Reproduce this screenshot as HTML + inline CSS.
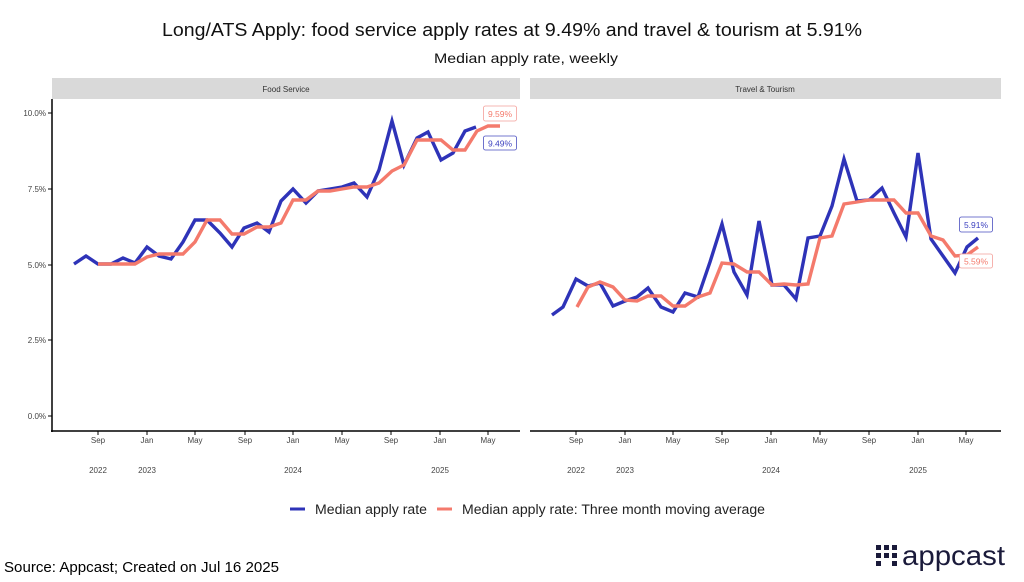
<!DOCTYPE html>
<html><head><meta charset="utf-8"><style>
html,body{margin:0;padding:0;background:#fff;}
svg{display:block;font-family:"Liberation Sans",sans-serif;}
</style></head><body>
<svg width="1024" height="582" viewBox="0 0 1024 582" xmlns="http://www.w3.org/2000/svg">
<rect width="1024" height="582" fill="#fff"/>
<text x="162" y="36" font-size="18" fill="#111" textLength="700" lengthAdjust="spacingAndGlyphs">Long/ATS Apply: food service apply rates at 9.49% and travel &amp; tourism at 5.91%</text>
<text x="434" y="63" font-size="14" fill="#111" textLength="184" lengthAdjust="spacingAndGlyphs">Median apply rate, weekly</text>

<!-- strips -->
<rect x="52" y="78" width="468" height="21" fill="#d9d9d9"/>
<text x="286" y="92" text-anchor="middle" font-size="8" fill="#333">Food Service</text>
<rect x="530" y="78" width="471" height="21" fill="#d9d9d9"/>
<text x="765" y="92" text-anchor="middle" font-size="8" fill="#333">Travel &amp; Tourism</text>

<!-- left axes -->
<line x1="52" y1="99" x2="52" y2="432" stroke="#000" stroke-width="1.5"/>
<line x1="51" y1="431" x2="520" y2="431" stroke="#000" stroke-width="1.5"/>
<g font-size="8" fill="#444" text-anchor="end">
<text x="46" y="116">10.0%</text><text x="46" y="192">7.5%</text><text x="46" y="268">5.0%</text><text x="46" y="343">2.5%</text><text x="46" y="419">0.0%</text>
</g>
<g stroke="#000" stroke-width="1">
<line x1="48" y1="113" x2="52" y2="113"/><line x1="48" y1="189" x2="52" y2="189"/><line x1="48" y1="265" x2="52" y2="265"/><line x1="48" y1="340" x2="52" y2="340"/><line x1="48" y1="416" x2="52" y2="416"/>
</g>
<g stroke="#000" stroke-width="1">
<line x1="98" y1="431" x2="98" y2="435"/><line x1="147" y1="431" x2="147" y2="435"/><line x1="195" y1="431" x2="195" y2="435"/><line x1="245" y1="431" x2="245" y2="435"/><line x1="293" y1="431" x2="293" y2="435"/><line x1="342" y1="431" x2="342" y2="435"/><line x1="391" y1="431" x2="391" y2="435"/><line x1="440" y1="431" x2="440" y2="435"/><line x1="488" y1="431" x2="488" y2="435"/>
</g>
<g font-size="8" fill="#444" text-anchor="middle">
<text x="98" y="443">Sep</text><text x="147" y="443">Jan</text><text x="195" y="443">May</text><text x="245" y="443">Sep</text><text x="293" y="443">Jan</text><text x="342" y="443">May</text><text x="391" y="443">Sep</text><text x="440" y="443">Jan</text><text x="488" y="443">May</text>
<text x="98" y="473">2022</text><text x="147" y="473">2023</text><text x="293" y="473">2024</text><text x="440" y="473">2025</text>
</g>

<!-- right axes -->
<line x1="530" y1="431" x2="1001" y2="431" stroke="#000" stroke-width="1.5"/>
<g stroke="#000" stroke-width="1">
<line x1="576" y1="431" x2="576" y2="435"/><line x1="625" y1="431" x2="625" y2="435"/><line x1="673" y1="431" x2="673" y2="435"/><line x1="722" y1="431" x2="722" y2="435"/><line x1="771" y1="431" x2="771" y2="435"/><line x1="820" y1="431" x2="820" y2="435"/><line x1="869" y1="431" x2="869" y2="435"/><line x1="918" y1="431" x2="918" y2="435"/><line x1="966" y1="431" x2="966" y2="435"/>
</g>
<g font-size="8" fill="#444" text-anchor="middle">
<text x="576" y="443">Sep</text><text x="625" y="443">Jan</text><text x="673" y="443">May</text><text x="722" y="443">Sep</text><text x="771" y="443">Jan</text><text x="820" y="443">May</text><text x="869" y="443">Sep</text><text x="918" y="443">Jan</text><text x="966" y="443">May</text>
<text x="576" y="473">2022</text><text x="625" y="473">2023</text><text x="771" y="473">2024</text><text x="918" y="473">2025</text>
</g>

<!-- left series -->
<polyline fill="none" stroke="#2e33b8" stroke-width="3.4" points="74,264 86,256 98,264 111,264 123,258 135,263 147,247 159,256 171,259 183,242 195,220 207,220 220,233 232,247 244,228 257,223 269,232 281,201 293,189 306,203 318,191 330,189 342,187 354,183 367,197 379,170 392,121 404,165 417,138 428,132 441,160 453,153 465,131 476,127"/>
<polyline fill="none" stroke="#f47a6c" stroke-width="3.4" points="98,264 111,264 123,264 135,264 147,257 159,254 183,254 195,242 207,220 220,220 232,234 244,234 257,227 269,227 281,223 293,200 306,200 318,191 330,191 342,189 354,187 367,187 379,183 392,171 404,165 417,140 428,140 441,140 453,150 465,150 477,131 488,126 500,126"/>
<rect x="483.5" y="106" width="33" height="15" rx="2" fill="#fff" stroke="#f4a09a" stroke-width="0.8"/>
<text x="500" y="117" text-anchor="middle" font-size="8.5" fill="#f47a6c">9.59%</text>
<rect x="483.5" y="136" width="33" height="14" rx="2" fill="#fff" stroke="#4a4fc0" stroke-width="0.8"/>
<text x="500" y="146.5" text-anchor="middle" font-size="8.5" fill="#3a3fbf">9.49%</text>

<!-- right series -->
<polyline fill="none" stroke="#2e33b8" stroke-width="3.4" points="552,315 563,307 576,279 588,286 600,283 613,306 625,301 637,297 648,288 661,307 673,312 685,293 698,297 710,262 722,224 734,272 747,295 759,221 772,285 784,285 796,299 808,238 820,236 832,206 844,159 857,201 869,200 882,188 894,213 906,237 918,153 931,239 943,256 955,273 967,247 978,238"/>
<polyline fill="none" stroke="#f47a6c" stroke-width="3.4" points="577,307 588,287 600,282 613,287 625,300 637,301 648,296 661,296 673,306 685,306 698,297 710,293 722,263 734,264 747,272 759,272 772,285 784,284 796,285 808,284 820,238 832,236 844,204 857,202 869,200 882,200 894,200 906,213 918,213 931,236 943,240 955,256 967,255 978,247"/>
<rect x="959.5" y="217" width="33" height="15" rx="2" fill="#fff" stroke="#4a4fc0" stroke-width="0.8"/>
<text x="976" y="228" text-anchor="middle" font-size="8.5" fill="#3a3fbf">5.91%</text>
<rect x="959.5" y="254" width="33" height="14" rx="2" fill="#fff" stroke="#f4a09a" stroke-width="0.8"/>
<text x="976" y="264.5" text-anchor="middle" font-size="8.5" fill="#f47a6c">5.59%</text>

<!-- legend -->
<line x1="290" y1="509" x2="305" y2="509" stroke="#2e33b8" stroke-width="3"/>
<text x="315" y="514" font-size="13.5" fill="#222" textLength="112" lengthAdjust="spacingAndGlyphs">Median apply rate</text>
<line x1="437" y1="509" x2="452" y2="509" stroke="#f47a6c" stroke-width="3"/>
<text x="462" y="514" font-size="13.5" fill="#222" textLength="303" lengthAdjust="spacingAndGlyphs">Median apply rate: Three month moving average</text>

<text x="4" y="572" font-size="14.5" fill="#000" textLength="275" lengthAdjust="spacingAndGlyphs">Source: Appcast; Created on Jul 16 2025</text>

<!-- logo -->
<g fill="#1a1a3a">
<rect x="876" y="545" width="5" height="5"/><rect x="884" y="545" width="5" height="5"/><rect x="892" y="545" width="5" height="5"/>
<rect x="876" y="553" width="5" height="5"/><rect x="884" y="553" width="5" height="5"/><rect x="892" y="553" width="5" height="5"/>
<rect x="876" y="561" width="5" height="5"/><rect x="892" y="561" width="5" height="5"/>
</g>
<text x="902" y="565" font-size="28" fill="#1a1a3a" textLength="103" lengthAdjust="spacingAndGlyphs">appcast</text>
</svg>
</body></html>
